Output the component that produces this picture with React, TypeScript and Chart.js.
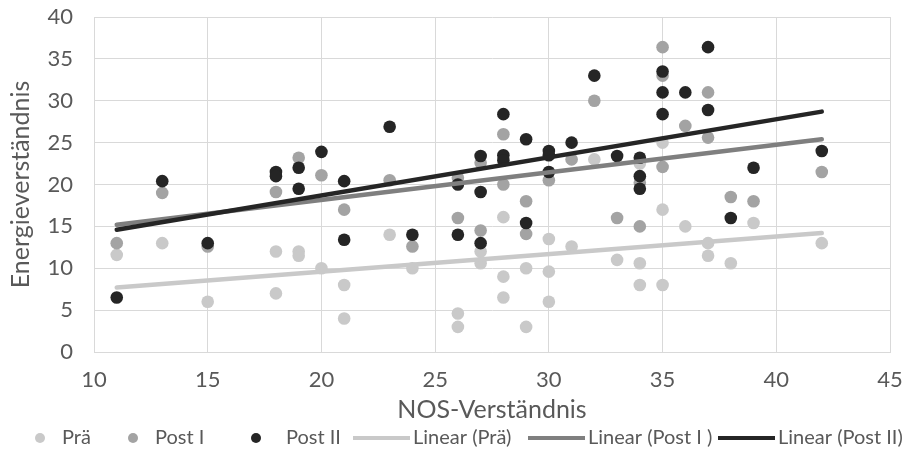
import React, { useEffect, useRef } from "react";
import { Chart, registerables } from "chart.js";

Chart.register(...registerables);

// ---- data ----
const xTickValues = [10, 15, 20, 25, 30, 35, 40, 45];
const yTickValues = [0, 5, 10, 15, 20, 25, 30, 35, 40];

const seriesLabels = ["Prä", "Post I", "Post II", "Linear (Prä)", "Linear (Post I )", "Linear (Post II)"];

const preX = [11, 13, 15, 18, 18, 19, 19, 20, 21, 21, 23, 24, 26, 26, 27, 27, 28, 28, 28, 29, 29, 30, 30, 30, 31, 32, 33, 34, 34, 34, 35, 35, 35, 36, 37, 37, 38, 39, 42];
const preY = [11.6, 13, 6, 12, 7, 12, 11.5, 10, 8, 4, 14, 10, 4.6, 3, 12, 10.6, 16.1, 9, 6.5, 10, 3, 13.5, 9.6, 6, 12.6, 23, 11, 22.5, 10.6, 8, 25, 17, 8, 15, 13, 11.5, 10.6, 15.4, 13];

const post1X = [11, 13, 15, 18, 19, 20, 21, 23, 24, 26, 26, 27, 27, 28, 28, 29, 29, 30, 31, 32, 33, 34, 34, 35, 35, 35, 36, 37, 37, 38, 39, 42];
const post1Y = [13, 19, 12.6, 19.1, 23.2, 21.1, 17, 20.5, 12.6, 20.8, 16, 22.6, 14.5, 26, 20, 18, 14.1, 20.5, 23, 30, 16, 20.2, 15, 36.4, 33, 22.1, 27, 31, 25.6, 18.5, 18, 21.5];

const post2X = [11, 13, 15, 18, 18, 19, 19, 20, 21, 21, 23, 24, 26, 26, 27, 27, 27, 28, 28, 28, 29, 29, 30, 30, 30, 31, 32, 33, 34, 34, 34, 35, 35, 35, 36, 37, 37, 38, 39, 42];
const post2Y = [6.5, 20.4, 13, 21.5, 21, 22, 19.5, 23.9, 20.4, 13.4, 26.9, 14, 20, 14, 23.4, 19.1, 13, 28.4, 23.5, 22.9, 25.4, 15.4, 24, 23.5, 21.5, 25, 33, 23.4, 23.2, 21, 19.5, 33.5, 31, 28.4, 31, 36.4, 28.9, 16, 22, 24];

const trendX = [11, 42];
const preTrend = [7.7, 14.2];
const post1Trend = [15.2, 25.4];
const post2Trend = [14.6, 28.7];

// ---- styles ----
const FONT = "Lato, 'Open Sans', sans-serif";
const TEXT_COLOR = "#595959";
const GRID_COLOR = "#d9d9d9";
const PRE_COLOR = "#c9c9c9";
const POST1_COLOR = "#a3a3a3";
const POST2_COLOR = "#252525";
const PRE_LINE = "#c9c9c9";
const POST1_LINE = "#7f7f7f";
const POST2_LINE = "#252525";

const pts = (xs: number[], ys: number[]) => xs.map((x, i) => ({ x, y: ys[i] }));

// legend layout (Excel-style bottom legend), positions in px
const LEGEND_MARKERS: Array<[number, number]> = [
  [40, 40],
  [133, 133],
  [256, 256],
  [353, 410],
  [528, 585],
  [718, 775],
];
const LEGEND_TEXT_X = [62, 155, 286, 413, 588, 778];

const legendPlugin = {
  id: "excelLegend",
  afterDraw(chart: any) {
    const { ctx, height } = chart;
    ctx.save();
    ctx.font = `20px ${FONT}`;
    const y = height - 13;
    chart.data.datasets.forEach((ds: any, i: number) => {
      const [a, b] = LEGEND_MARKERS[i];
      if (ds.showLine) {
        ctx.strokeStyle = ds.borderColor;
        ctx.lineWidth = 4;
        ctx.beginPath();
        ctx.moveTo(a, y);
        ctx.lineTo(b, y);
        ctx.stroke();
      } else {
        ctx.fillStyle = ds.backgroundColor;
        ctx.beginPath();
        ctx.arc(a, y, 5, 0, Math.PI * 2);
        ctx.fill();
      }
      ctx.fillStyle = TEXT_COLOR;
      ctx.textBaseline = "middle";
      ctx.textAlign = "left";
      ctx.fillText(ds.label, LEGEND_TEXT_X[i], y);
    });
    ctx.restore();
  },
};

export default function App() {
  const ref = useRef<HTMLCanvasElement | null>(null);
  useEffect(() => {
    if (!ref.current) return;
    const scatter = (label: string, xs: number[], ys: number[], color: string, order: number) => ({
      label,
      data: pts(xs, ys),
      backgroundColor: color,
      borderColor: color,
      pointRadius: 6.3,
      pointBorderWidth: 0,
      showLine: false,
      order,
    });
    const trend = (label: string, ys: number[], color: string, order: number) => ({
      label,
      data: pts(trendX, ys),
      borderColor: color,
      backgroundColor: color,
      borderWidth: 4.5,
      pointRadius: 0,
      showLine: true,
      borderCapStyle: "round",
      order,
    });
    const chart = new Chart(ref.current, {
      type: "scatter",
      data: {
        datasets: [
          scatter(seriesLabels[0], preX, preY, PRE_COLOR, 5),
          scatter(seriesLabels[1], post1X, post1Y, POST1_COLOR, 4),
          scatter(seriesLabels[2], post2X, post2Y, POST2_COLOR, 3),
          trend(seriesLabels[3], preTrend, PRE_LINE, 2),
          trend(seriesLabels[4], post1Trend, POST1_LINE, 1),
          trend(seriesLabels[5], post2Trend, POST2_LINE, 0),
        ] as any,
      },
      options: {
        animation: false,
        responsive: false,
        layout: { padding: { top: 17, right: 17, left: 0, bottom: 0 } },
        plugins: { legend: { display: false }, tooltip: { enabled: false } },
        scales: {
          x: {
            type: "linear",
            min: xTickValues[0],
            max: xTickValues[xTickValues.length - 1],
            afterBuildTicks: (s: any) => {
              s.ticks = xTickValues.map((v) => ({ value: v }));
            },
            afterFit: (s: any) => {
              s.height = 99;
              s.paddingLeft = 0;
              s.paddingRight = 0;
            },
            ticks: { color: TEXT_COLOR, font: { family: FONT, size: 22 }, padding: 15 },
            grid: { color: GRID_COLOR, drawTicks: false, lineWidth: 1 },
            border: { color: GRID_COLOR },
            title: {
              display: true,
              text: "NOS-Verständnis",
              color: TEXT_COLOR,
              font: { family: FONT, size: 25 },
              padding: { top: 0, bottom: 26 },
            },
          },
          y: {
            type: "linear",
            min: yTickValues[0],
            max: yTickValues[yTickValues.length - 1],
            afterBuildTicks: (s: any) => {
              s.ticks = yTickValues.map((v) => ({ value: v }));
            },
            afterFit: (s: any) => {
              s.width = 94;
              s.paddingTop = 0;
              s.paddingBottom = 0;
            },
            ticks: { color: TEXT_COLOR, font: { family: FONT, size: 22 }, padding: 21 },
            grid: { color: GRID_COLOR, drawTicks: false, lineWidth: 1 },
            border: { color: GRID_COLOR },
            title: {
              display: true,
              text: "Energieverständnis",
              color: TEXT_COLOR,
              font: { family: FONT, size: 25 },
              padding: { top: 6, bottom: 0 },
            },
          },
        },
      } as any,
      plugins: [legendPlugin],
    });
    return () => chart.destroy();
  }, []);
  return (
    <div style={{ position: "absolute", left: 0, top: 0, width: 907, height: 451, background: "#fff" }}>
      <canvas ref={ref} width={907} height={451} style={{ display: "block" }} />
    </div>
  );
}
